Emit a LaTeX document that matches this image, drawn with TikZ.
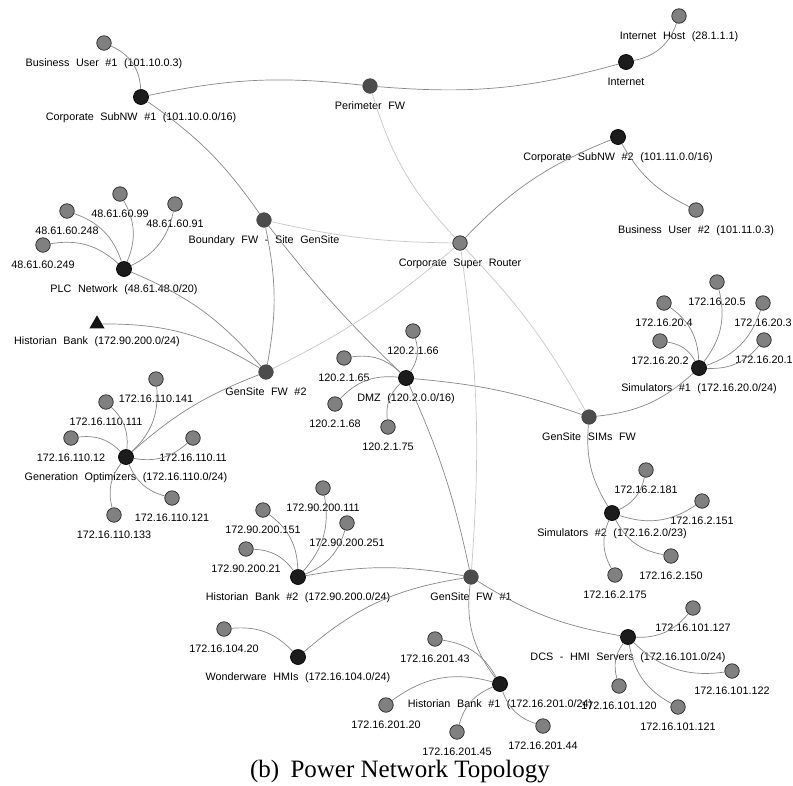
\documentclass[tikz,border=0pt]{standalone}
\usepackage{fontspec}
\setmainfont{Liberation Serif}
\newfontfamily\netfont[WordSpace=2.2]{Liberation Sans}
\usetikzlibrary{shapes.geometric}
\tikzstyle{host}=[circle,fill=black!50,draw=black!85,minimum size=14.5pt,inner sep=0pt,line width=0.7pt]
\tikzstyle{subnet}=[circle,fill=black!89,draw=black,minimum size=15pt,inner sep=0pt,line width=0.7pt]
\tikzstyle{firewall}=[circle,fill=black!70,draw=black!72,minimum size=14.5pt,inner sep=0pt,line width=0.7pt]
\tikzstyle{bank}=[regular polygon,regular polygon sides=3,fill=black!92,minimum size=17.5pt,inner sep=0pt]
\tikzstyle{annot}=[align=center,inner sep=0pt,text height=8pt,text depth=2.5pt,node distance=21pt,
  font=\netfont\fontsize{10.8}{12}\selectfont]
\tikzstyle{link}=[draw=black!47,line width=0.7pt]
\tikzstyle{weak}=[draw=black!22,line width=0.7pt]
\tikzstyle{twig}=[link,bend right=26]
\newcommand{\netnode}[4]
{
  \node[#1](#2) at (#3){};
  \node[annot,below of=#2](#2-lbl){#4};
}

\begin{document}
\begin{tikzpicture}[x=1pt,y=1pt]
	\useasboundingbox (0,0) rectangle (793,-785);

	% corporate side
	\netnode{host}{inethost}{679,-16}{Internet Host (28.1.1.1)}
	\netnode{subnet}{inet}{626,-62}{Internet}
	\netnode{firewall}{perim}{370,-86}{Perimeter FW}
	\netnode{host}{busa}{104,-43}{Business User \#1 (101.10.0.3)}
	\netnode{subnet}{corpa}{141,-97}{Corporate SubNW \#1 (101.10.0.0/16)}
	\netnode{subnet}{corpb}{618,-137}{Corporate SubNW \#2 (101.11.0.0/16)}
	\netnode{host}{busb}{696,-210}{Business User \#2 (101.11.0.3)}
	\netnode{host}{router}{460,-243}{Corporate Super Router}
	\netnode{firewall}{bfw}{264,-220}{Boundary FW - Site GenSite}

	% site firewalls and subnets
	\netnode{firewall}{gfw2}{266,-372}{GenSite FW \#2}
	\netnode{firewall}{gfw1}{471,-577}{GenSite FW \#1}
	\netnode{firewall}{gsims}{589,-417}{GenSite SIMs FW}
	\netnode{subnet}{plc}{124,-269}{PLC Network (48.61.48.0/20)}
	\netnode{subnet}{genopt}{126,-457}{Generation Optimizers (172.16.110.0/24)}
	\netnode{subnet}{dmz}{406,-378}{DMZ (120.2.0.0/16)}
	\netnode{subnet}{sima}{699,-368}{Simulators \#1 (172.16.20.0/24)}
	\netnode{subnet}{simb}{612,-513}{Simulators \#2 (172.16.2.0/23)}
	\netnode{subnet}{hbb}{298,-577}{Historian Bank \#2 (172.90.200.0/24)}
	\netnode{subnet}{ww}{298,-657}{Wonderware HMIs (172.16.104.0/24)}
	\netnode{subnet}{hba}{500,-684}{Historian Bank \#1 (172.16.201.0/24)}
	\netnode{subnet}{dcs}{628,-637}{DCS - HMI Servers (172.16.101.0/24)}
	\node[bank](hbank) at (97,-324){};
	\node[annot,node distance=18pt,below of=hbank](hbank-lbl){Historian Bank (172.90.200.0/24)};

	% hosts
	\netnode{host}{plc249}{43,-245}{48.61.60.249}
	\netnode{host}{plc248}{67,-211}{48.61.60.248}
	\netnode{host}{plc99}{120,-194}{48.61.60.99}
	\netnode{host}{plc91}{175,-204}{48.61.60.91}
	\netnode{host}{go141}{156,-379}{172.16.110.141}
	\netnode{host}{go111}{106,-402}{172.16.110.111}
	\netnode{host}{go12}{71,-438}{172.16.110.12}
	\netnode{host}{go11}{193,-438}{172.16.110.11}
	\netnode{host}{go121}{172,-498}{172.16.110.121}
	\netnode{host}{go133}{114,-515}{172.16.110.133}
	\netnode{host}{dmz66}{413,-331}{120.2.1.66}
	\netnode{host}{dmz65}{344,-358}{120.2.1.65}
	\netnode{host}{dmz68}{335,-404}{120.2.1.68}
	\netnode{host}{dmz75}{388,-427}{120.2.1.75}
	\netnode{host}{sima5}{717,-282}{172.16.20.5}
	\netnode{host}{sima4}{664,-303}{172.16.20.4}
	\netnode{host}{sima3}{763,-303}{172.16.20.3}
	\netnode{host}{sima2}{660,-341}{172.16.20.2}
	\netnode{host}{sima1}{764,-340}{172.16.20.1}
	\netnode{host}{simb181}{646,-470}{172.16.2.181}
	\netnode{host}{simb151}{702,-501}{172.16.2.151}
	\netnode{host}{simb150}{671,-556}{172.16.2.150}
	\netnode{host}{simb175}{615,-575}{172.16.2.175}
	\netnode{host}{hbb111}{323,-488}{172.90.200.111}
	\netnode{host}{hbb151}{263,-510}{172.90.200.151}
	\netnode{host}{hbb251}{347,-523}{172.90.200.251}
	\netnode{host}{hbb21}{246,-549}{172.90.200.21}
	\netnode{host}{ww20}{224,-629}{172.16.104.20}
	\netnode{host}{hba43}{435,-639}{172.16.201.43}
	\netnode{host}{hba20}{386,-705}{172.16.201.20}
	\netnode{host}{hba45}{457,-732}{172.16.201.45}
	\netnode{host}{hba44}{543,-726}{172.16.201.44}
	\netnode{host}{dcs127}{693,-608}{172.16.101.127}
	\netnode{host}{dcs122}{732,-671}{172.16.101.122}
	\netnode{host}{dcs120}{619,-686}{172.16.101.120}
	\netnode{host}{dcs121}{678,-707}{172.16.101.121}

	% backbone links
	\draw[link] (inet) to[bend right=30] (inethost);
	\draw[link] (perim) to[bend right=10] (inet);
	\draw[link] (perim) to[bend right=9] (corpa);
	\draw[link] (corpa) to[bend right=32] (busa);
	\draw[link] (bfw) to[bend right=10] (corpa);
	\draw[weak] (perim) to[bend right=13] (router);
	\draw[weak] (bfw) to[bend right=6] (router);
	\draw[link] (corpb) to[bend right=12] (router);
	\draw[link] (corpb) to[bend right=17] (busb);
	\draw[link] (gfw2) to[bend right=11] (bfw);
	\draw[link] (bfw) to[bend right=4] (dmz);
	\draw[weak] (gfw2) to[bend right=7] (router);
	\draw[weak] (gfw1) to[bend right=6] (router);
	\draw[weak] (gsims) to[bend right=7] (router);
	\draw[link] (gfw2) to[bend right=13] (plc);
	\draw[link] (gfw2) to[bend right=16] (hbank);
	\draw[link] (gfw2) to[bend right=10] (genopt);
	\draw[link] (gsims) to[bend right=7] (dmz);
	\draw[link] (gfw1) to[bend right=6] (dmz);
	\draw[link] (gsims) to[bend right=18] (sima);
	\draw[link] (gsims) to[bend right=18] (simb);
	\draw[link] (gfw1) to[bend right=10] (hbb);
	\draw[link] (gfw1) to[bend right=16] (ww);
	\draw[link] (gfw1) to[bend right=22] (hba);
	\draw[link] (gfw1) to[bend right=11] (dcs);

	% subnet to host links
	\draw[twig] (plc) to (plc249);
	\draw[twig] (plc) to (plc248);
	\draw[twig] (plc) to (plc99);
	\draw[twig] (plc) to (plc91);
	\draw[twig] (genopt) to (go141);
	\draw[twig] (genopt) to (go111);
	\draw[twig] (genopt) to (go12);
	\draw[twig] (genopt) to (go11);
	\draw[twig] (genopt) to (go121);
	\draw[twig] (genopt) to (go133);
	\draw[twig] (dmz) to (dmz66);
	\draw[twig] (dmz) to (dmz65);
	\draw[twig] (dmz) to (dmz68);
	\draw[twig] (dmz) to (dmz75);
	\draw[twig] (sima) to (sima5);
	\draw[twig] (sima) to (sima4);
	\draw[twig] (sima) to (sima3);
	\draw[twig] (sima) to (sima2);
	\draw[twig] (sima) to (sima1);
	\draw[twig] (simb) to (simb181);
	\draw[twig] (simb) to (simb151);
	\draw[twig] (simb) to (simb150);
	\draw[twig] (simb) to (simb175);
	\draw[twig] (hbb) to (hbb111);
	\draw[twig] (hbb) to (hbb151);
	\draw[twig] (hbb) to (hbb251);
	\draw[twig] (hbb) to (hbb21);
	\draw[twig] (ww) to (ww20);
	\draw[twig] (hba) to (hba43);
	\draw[twig] (hba) to (hba20);
	\draw[twig] (hba) to (hba45);
	\draw[twig] (hba) to (hba44);
	\draw[twig] (dcs) to (dcs127);
	\draw[twig] (dcs) to (dcs122);
	\draw[twig] (dcs) to (dcs120);
	\draw[twig] (dcs) to (dcs121);

	\node[anchor=base,font=\fontsize{25}{28}\selectfont](caption) at (400,-777){(b)\hspace{0.45em}Power Network Topology};
\end{tikzpicture}
\end{document}
